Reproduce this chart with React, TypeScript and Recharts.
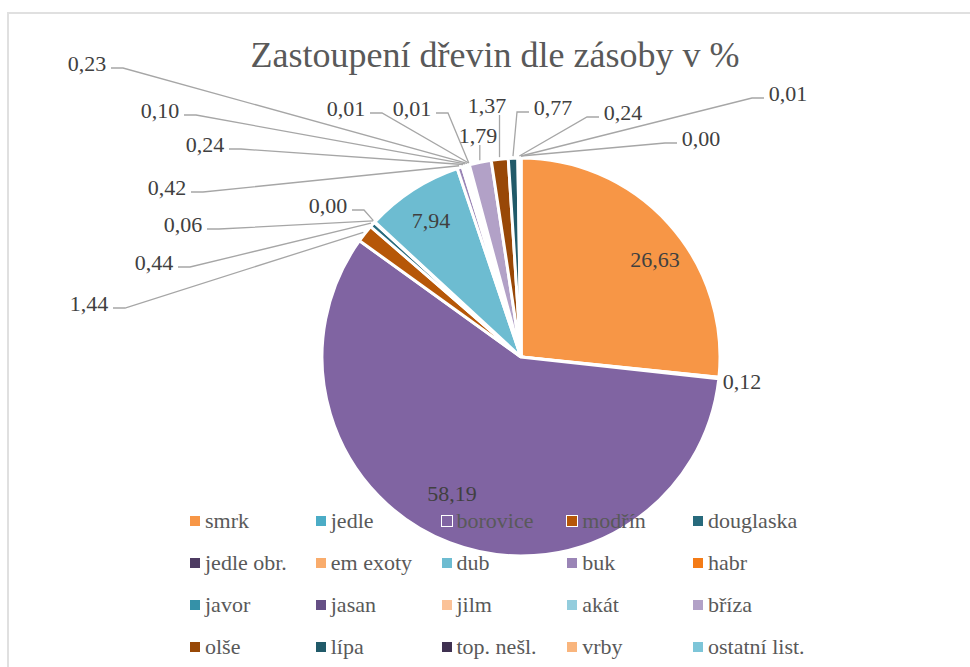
import { PieChart, Pie, Cell, Legend } from 'recharts';

// species in legend / slice order (clockwise from 12 o'clock)
const species = [
  'smrk', 'jedle', 'borovice', 'modřín', 'douglaska',
  'jedle obr.', 'em exoty', 'dub', 'buk', 'habr',
  'javor', 'jasan', 'jilm', 'akát', 'bříza',
  'olše', 'lípa', 'top. nešl.', 'vrby', 'ostatní list.',
];

// share of growing stock in %
const shares = [
  26.63, 0.12, 58.19, 1.44, 0.44,
  0.06, 0.0, 7.94, 0.42, 0.24,
  0.1, 0.23, 0.01, 0.01, 1.79,
  1.37, 0.77, 0.24, 0.0, 0.01,
];

const colors = [
  '#F79646', '#4BACC6', '#8064A2', '#B65708', '#276A7C',
  '#4D3B62', '#F9AC6C', '#6DBCD1', '#9A85B6', '#F47B16',
  '#3591A8', '#654F85', '#FBC298', '#93CDDD', '#B2A1C7',
  '#984807', '#215A69', '#3F3151', '#F9B57D', '#7DC5D8',
];

const data = species.map((name, i) => ({ name, value: shares[i] }));

// label placement relative to the pie centre, Excel "best fit" style
// kind: in = no leader, l = label left of slice, r = label right, d = label above
const labelLayout: [number, number, string][] = [
  [134, -98, 'in'], [221, 24, 'in'], [-69, 136, 'in'], [-432, -54, 'l'], [-367, -95, 'l'],
  [-338, -133, 'l'], [-193, -152, 'l'], [-90, -137, 'in'], [-354, -170, 'l'], [-316, -213, 'l'],
  [-361, -247, 'l'], [-434, -294, 'l'], [-175, -249, 'l'], [-109, -249, 'l'], [-43, -222, 'd'],
  [-34, -252, 'd'], [32, -250, 'r'], [102, -245, 'r'], [180, -219, 'r'], [267, -264, 'r'],
];

const FONT = '"Liberation Serif", Tinos, "Times New Roman", monospace';
const RAD = Math.PI / 180;

const fmt = (v: number) => v.toFixed(2).replace('.', ',');

const renderLabel = (props: any) => {
  const { cx, cy, midAngle, outerRadius, index, value } = props;
  const [dx, dy, kind] = labelLayout[index];
  const lx = cx + dx;
  const ly = cy + dy;
  const a = -midAngle * RAD;
  const px = cx + (outerRadius + 2) * Math.cos(a);
  const py = cy + (outerRadius + 2) * Math.sin(a);
  let d = '';
  if (kind === 'l') {
    const sx = lx + 24;
    d = `M${sx},${ly + 5}H${sx + 12}L${px},${py}`;
  } else if (kind === 'r') {
    const sx = lx - 24;
    d = `M${sx},${ly + 5}H${sx - 12}L${px},${py}`;
  } else if (kind === 'd') {
    d = `M${px},${ly + 10}V${py}`;
  }
  return (
    <g key={`lbl-${index}`}>
      {d && <path d={d} stroke="#A6A6A6" strokeWidth={1.3} fill="none" />}
      <text
        x={lx}
        y={ly}
        textAnchor="middle"
        dominantBaseline="central"
        fill="#404040"
        fontSize={22}
        style={{ fontFamily: FONT }}
      >
        {fmt(value)}
      </text>
    </g>
  );
};

const renderLegend = (props: any) => {
  // keep the species order instead of the alphabetical one
  const items = [...(props.payload || [])].sort(
    (a: any, b: any) => species.indexOf(a.value) - species.indexOf(b.value)
  );
  return (
    <div
      style={{
        display: 'grid',
        gridTemplateColumns: 'repeat(5, 125.75px)',
        fontFamily: FONT,
        fontSize: 22,
        color: '#595959',
      }}
    >
      {items.map((entry: any, i: number) => (
        <div key={i} style={{ display: 'flex', alignItems: 'center', height: 42, whiteSpace: 'nowrap' }}>
          <span
            style={{
              display: 'inline-block',
              width: 12,
              height: 12,
              boxSizing: 'border-box',
              border: '1px solid #fff',
              background: entry.color,
              marginRight: 4,
            }}
          />
          <span>{entry.value}</span>
        </div>
      ))}
    </div>
  );
};

export default function App() {
  return (
    <div style={{ position: 'absolute', left: 0, top: 0, width: 970, height: 667, overflow: 'hidden', background: '#fff', fontFamily: FONT }}>
      <div
        style={{
          position: 'absolute',
          left: 7,
          top: 12,
          width: 1000,
          height: 700,
          border: '2px solid #E0E0E0',
        }}
      />
      <div
        style={{
          position: 'absolute',
          left: 0,
          top: 37,
          width: 990,
          textAlign: 'center',
          fontFamily: FONT,
          fontSize: 36,
          lineHeight: '36px',
          color: '#595959',
        }}
      >
        Zastoupení dřevin dle zásoby v %
      </div>
      <div style={{ position: 'absolute', left: 0, top: 0 }}>
        <PieChart width={970} height={667} style={{ fontFamily: FONT }}>
          <Pie
            data={data}
            dataKey="value"
            nameKey="name"
            cx={516}
            cy={352}
            outerRadius={199}
            startAngle={90}
            endAngle={-270}
            stroke="#fff"
            strokeWidth={3}
            label={renderLabel}
            labelLine={false}
            isAnimationActive={false}
          >
            {data.map((d, i) => (
              <Cell key={d.name} fill={colors[i]} />
            ))}
          </Pie>
          <Legend
            content={renderLegend}
            wrapperStyle={{ position: 'absolute', left: 189, top: 500, width: 640, bottom: 'auto' }}
          />
        </PieChart>
      </div>
    </div>
  );
}
